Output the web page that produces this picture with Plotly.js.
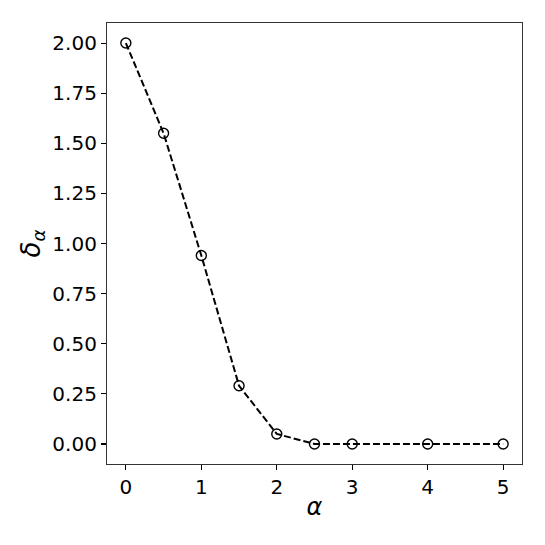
<!DOCTYPE html>
<html>
<head>
<meta charset="utf-8">
<script src="https://cdn.plot.ly/plotly-3.0.1.min.js"></script>
<style>
  html, body { margin: 0; padding: 0; background: #fff; }
  #plot { width: 545px; height: 545px; }
</style>
</head>
<body>
<div id="plot"></div>
<script>
// Data
const alphaValues = [0, 0.5, 1, 1.5, 2, 2.5, 3, 4, 5];
const deltaValues = [2.00, 1.55, 0.94, 0.29, 0.05, 0.0, 0.0, 0.0, 0.0];
const xTicks = [0, 1, 2, 3, 4, 5];
const yTicks = [0, 0.25, 0.5, 0.75, 1.0, 1.25, 1.5, 1.75, 2.0];
const yTickLabels = yTicks.map(v => v.toFixed(2));

const trace = {
    x: alphaValues,
    y: deltaValues,
    type: 'scatter',
    mode: 'lines+markers',
    line: { color: '#000', width: 2, dash: '7px,3px' },
    marker: {
        symbol: 'circle-open',
        size: 10,
        color: '#000',
        line: { color: '#000', width: 1.4 }
    },
    showlegend: false
};

const axisCommon = {
    showgrid: false,
    zeroline: false,
    showline: true,
    linecolor: '#333',
    linewidth: 1.1,
    mirror: true,
    ticks: 'outside',
    ticklen: 5,
    tickwidth: 1.1,
    tickcolor: '#000',
    tickfont: { family: 'DejaVu Sans, sans-serif', size: 20, color: '#000' }
};

const layout = {
    width: 545,
    height: 545,
    margin: { l: 107, r: 23, t: 23, b: 81 },
    paper_bgcolor: '#fff',
    plot_bgcolor: '#fff',
    xaxis: Object.assign({}, axisCommon, {
        range: [-0.25, 5.25],
        tickvals: xTicks,
        ticktext: xTicks.map(String),
        title: {
            text: '<i>α</i>',
            font: { family: 'DejaVu Sans, sans-serif', size: 24, color: '#000' },
            standoff: 0
        }
    }),
    yaxis: Object.assign({}, axisCommon, {
        range: [-0.1, 2.1],
        tickvals: yTicks,
        ticktext: yTickLabels,
        title: {
            text: '<i>δ</i><sub><i>α</i></sub>',
            font: { family: 'DejaVu Sans, sans-serif', size: 26, color: '#000' },
            standoff: 4
        }
    })
};

Plotly.newPlot('plot', [trace], layout, { displayModeBar: false, staticPlot: true });
</script>
</body>
</html>
